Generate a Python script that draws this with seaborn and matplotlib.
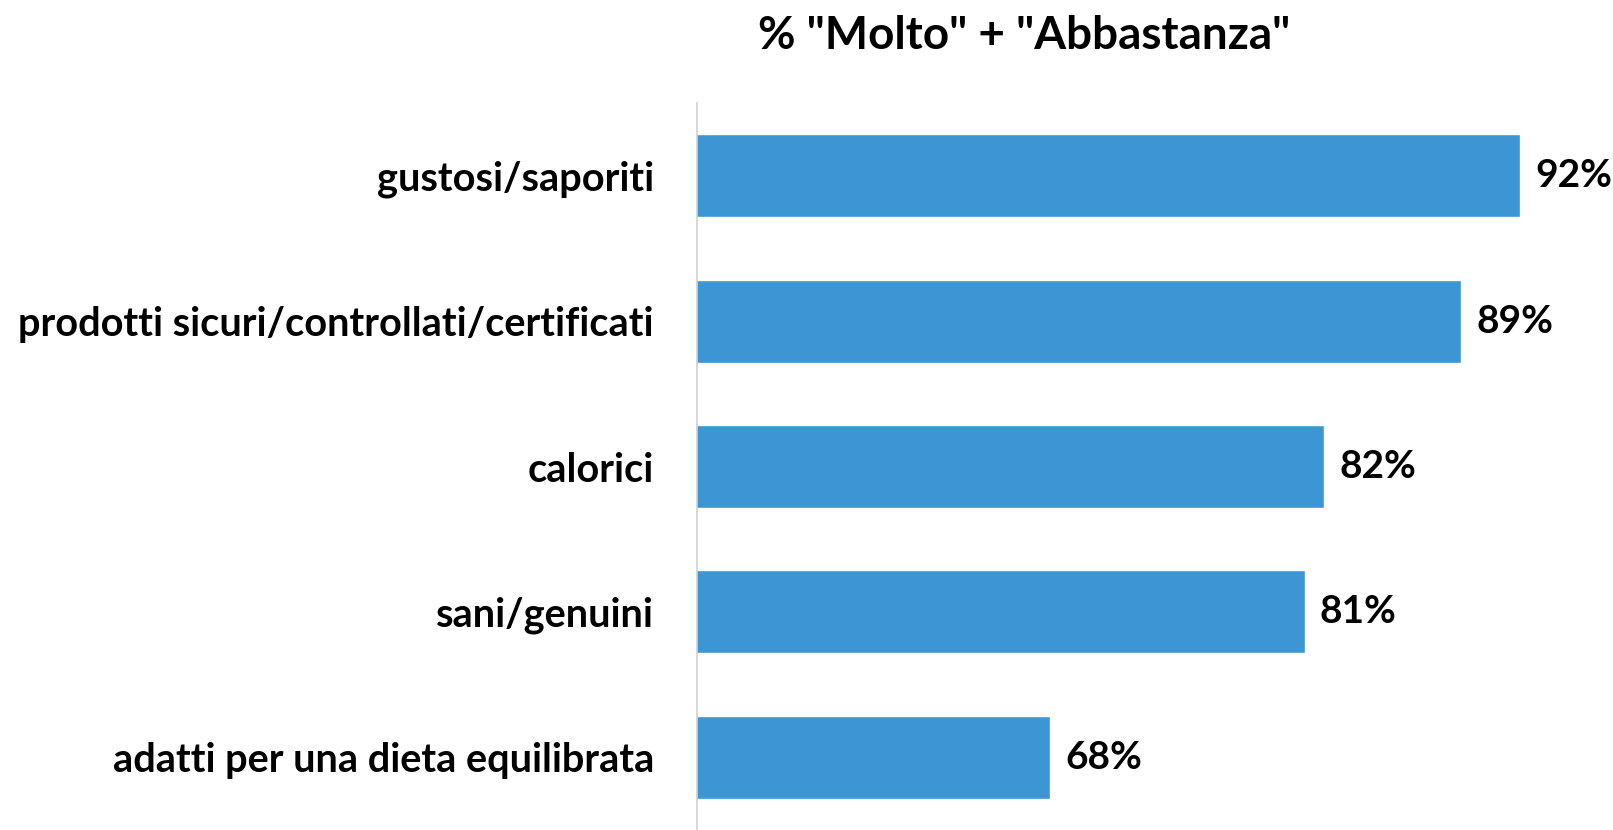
import matplotlib
matplotlib.use("Agg")
import matplotlib.pyplot as plt
import seaborn as sns
import pandas as pd

# data
categories = [
    "gustosi/saporiti",
    "prodotti sicuri/controllati/certificati",
    "calorici",
    "sani/genuini",
    "adatti per una dieta equilibrata",
]
values = [92, 89, 82, 81, 68]
value_labels = ["92%", "89%", "82%", "81%", "68%"]
title = '% "Molto" + "Abbastanza"'

df = pd.DataFrame({"categoria": categories, "valore": values})

sns.set_theme(style="white")
plt.rcParams["font.family"] = ["Lato", "DejaVu Sans"]

fig = plt.figure(figsize=(16.13, 8.30), dpi=100)
ax = fig.add_axes([697 / 1613, 0.0, (1613 - 697) / 1613, 1 - 103 / 830])

sns.barplot(data=df, x="valore", y="categoria", color="#3B96D3",
            width=0.57, saturation=1, ax=ax)

ax.set_xlim(50, 50 + (1613 - 697) / 19.6)
ax.set_ylim(4.5, -0.5)
ax.set_xlabel("")
ax.set_ylabel("")
ax.set_xticks([])
for side in ["top", "right", "bottom"]:
    ax.spines[side].set_visible(False)
ax.spines["left"].set_color("#D0D0D0")
ax.spines["left"].set_linewidth(1.2)

ax.tick_params(axis="y", length=0, pad=31)
for lab in ax.get_yticklabels():
    lab.set_fontsize(28.6)
    lab.set_fontweight("bold")
    lab.set_color("black")

for i, (v, t) in enumerate(zip(values, value_labels)):
    ax.annotate(t, xy=(v, i), xytext=(11, 0), textcoords="offset points",
                ha="left", va="center", fontsize=28, fontweight="bold", color="black")

fig.text(1024 / 1613, 1 - 36 / 830, title, ha="center", va="center",
         fontsize=33, fontweight="bold", color="black")

fig.savefig("out.png", dpi=100)
